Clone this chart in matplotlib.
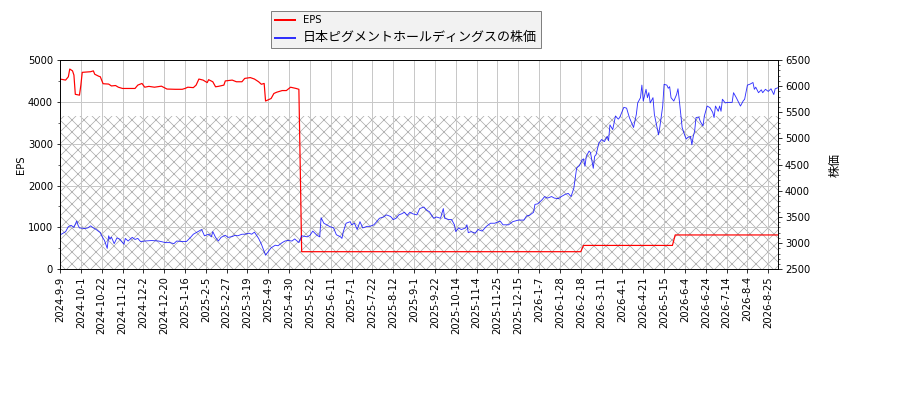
import matplotlib
matplotlib.use('Agg')
import matplotlib.pyplot as plt
from matplotlib.ticker import MultipleLocator

plt.rcParams['font.family'] = ['DejaVu Sans', 'Noto Sans CJK JP']
plt.rcParams['hatch.linewidth'] = 0.7

# trading-day index -> value
eps_day = [0, 4, 6, 7, 9, 10, 11, 14, 15, 16, 22, 24, 25, 28, 29, 31, 35, 37, 40, 42,
           45, 54, 56, 59, 61, 64, 68, 73, 77, 83, 88, 90, 92, 96, 98, 100, 103, 106,
           107, 110, 112, 114, 118, 119, 124, 127, 131, 133, 137, 140, 143, 145, 147,
           148, 152, 154, 156, 160, 163, 166, 170, 172, 173, 174, 375, 377, 441, 443, 517]
eps_val = [4545, 4520, 4600, 4784, 4740, 4640, 4180, 4160, 4400, 4705, 4720, 4740, 4660,
           4610, 4600, 4433, 4425, 4380, 4390, 4350, 4320, 4320, 4400, 4440, 4350, 4370,
           4350, 4375, 4306, 4300, 4300, 4320, 4350, 4340, 4400, 4545, 4520, 4460, 4530,
           4480, 4360, 4370, 4400, 4500, 4520, 4480, 4480, 4560, 4580, 4545, 4480, 4420,
           4440, 4020, 4080, 4200, 4230, 4270, 4270, 4350, 4320, 4300, 2400, 420, 420,
           570, 570, 820, 820]

price_day = [0, 4, 6, 8, 10, 12, 13, 14, 18, 20, 22, 24, 26, 29, 30, 32, 34, 35, 36, 37,
             39, 41, 43, 46, 47, 49, 52, 54, 56, 58, 61, 66, 71, 76, 79, 82, 84, 88, 91,
             94, 96, 100, 102, 104, 107, 109, 110, 112, 114, 116, 119, 121, 124, 126, 128,
             131, 133, 136, 138, 140, 143, 145, 148, 150, 152, 155, 157, 160, 162, 164,
             167, 169, 172, 174, 178, 180, 182, 185, 187, 188, 190, 192, 194, 197, 199,
             202, 203, 204, 206, 209, 210, 212, 214, 216, 218, 221, 223, 226, 228, 230,
             233, 235, 238, 240, 242, 244, 246, 248, 250, 252, 254, 257, 259, 262, 264,
             266, 269, 271, 274, 276, 277, 280, 282, 284, 285, 287, 289, 292, 293, 294,
             296, 299, 301, 304, 307, 310, 313, 317, 319, 323, 326, 330, 334, 336, 338,
             341, 342, 344, 347, 349, 351, 354, 356, 359, 361, 364, 366, 368, 370, 372,
             373, 374, 376, 377, 378, 379, 381, 382, 384, 385, 386, 388, 390, 392, 394,
             395, 396, 398, 400, 402, 403, 406, 408, 410, 413, 415, 416, 418, 419, 420,
             422, 423, 424, 425, 427, 428, 431, 432, 434, 435, 437, 438, 439, 440, 442,
             444, 445, 446, 447, 448, 450, 451, 452, 454, 455, 456, 457, 458, 460, 461,
             463, 464, 466, 468, 470, 471, 472, 474, 475, 476, 477, 479, 481, 484, 485,
             487, 490, 492, 493, 495, 497, 499, 500, 501, 503, 505, 506, 508, 510, 512,
             514, 515, 517]
price_val = [3155, 3219, 3314, 3340, 3300, 3423, 3340, 3290, 3280, 3290, 3330, 3290, 3260,
             3200, 3140, 3050, 2900, 3140, 3075, 3115, 2990, 3100, 3075, 2980, 3090, 3040,
             3110, 3070, 3090, 3030, 3040, 3050, 3040, 3010, 3010, 2990, 3040, 3030, 3030,
             3110, 3170, 3230, 3260, 3140, 3170, 3120, 3220, 3110, 3040, 3110, 3150, 3110,
             3125, 3150, 3140, 3170, 3170, 3190, 3170, 3210, 3090, 2980, 2770, 2840, 2910,
             2960, 2950, 3010, 3040, 3050, 3040, 3080, 3010, 3140, 3120, 3150, 3230, 3150,
             3120, 3486, 3380, 3350, 3320, 3290, 3160, 3120, 3090, 3220, 3380, 3410, 3350,
             3380, 3260, 3410, 3290, 3320, 3320, 3350, 3410, 3475, 3500, 3540, 3510, 3450,
             3475, 3540, 3560, 3590, 3530, 3590, 3560, 3540, 3660, 3690, 3630, 3600, 3475,
             3500, 3475, 3660, 3475, 3450, 3450, 3350, 3220, 3290, 3260, 3290, 3350, 3200,
             3220, 3190, 3260, 3230, 3320, 3380, 3380, 3420, 3350, 3350, 3410, 3440, 3440,
             3520, 3530, 3590, 3740, 3750, 3825, 3890, 3860, 3890, 3860, 3850, 3890, 3935,
             3950, 3890, 4050, 4430, 4460, 4480, 4590, 4610, 4470, 4660, 4760, 4730, 4430,
             4660, 4690, 4910, 4980, 4940, 5040, 4960, 5260, 5170, 5430, 5370, 5400, 5595,
             5580, 5400, 5210, 5460, 5680, 5780, 6020, 5715, 5940, 5780, 5875, 5680, 5780,
             5460, 5070, 5230, 5620, 6035, 6020, 5960, 5990, 5780, 5715, 5840, 5950, 5720,
             5460, 5210, 5050, 4990, 5020, 5040, 4880, 5040, 5140, 5400, 5410, 5330, 5240,
             5430, 5620, 5590, 5500, 5400, 5620, 5520, 5620, 5520, 5750, 5680, 5690, 5690,
             5875, 5780, 5620, 5720, 5750, 6020, 6040, 6070, 5940, 5980, 5875, 5930, 5875,
             5940, 5900, 5950, 5840, 5950, 5970]

tick_labels = ['2024-9-9', '2024-10-1', '2024-10-22', '2024-11-12', '2024-12-2',
               '2024-12-20', '2025-1-16', '2025-2-5', '2025-2-27', '2025-3-19',
               '2025-4-9', '2025-4-30', '2025-5-22', '2025-6-11', '2025-7-1',
               '2025-7-22', '2025-8-12', '2025-9-1', '2025-9-22', '2025-10-14',
               '2025-11-4', '2025-11-25', '2025-12-15', '2026-1-7', '2026-1-28',
               '2026-2-18', '2026-3-11', '2026-4-1', '2026-4-21', '2026-5-15',
               '2026-6-4', '2026-6-24', '2026-7-14', '2026-8-4', '2026-8-25']
tick_step = 15
last_day = 517
hatch_top = 3660

fig = plt.figure(figsize=(12.5, 400 / 72), dpi=72)
ax1 = fig.add_axes([0.0667, 0.3268, 0.7977, 0.5232])
ax2 = ax1.twinx()

ax1.fill_between([0, last_day], 0, hatch_top, hatch='xx', facecolor='none',
                 edgecolor='#a8a8a8', linewidth=0, zorder=0)
l1, = ax1.plot(eps_day, eps_val, color='red', linewidth=1.2, label='EPS')
l2, = ax2.plot(price_day, price_val, color='blue', alpha=0.8, linewidth=0.9,
               label='日本ピグメントホールディングスの株価')

ax1.set_xlim(0, last_day)
ax1.set_ylim(0, 5000)
ax2.set_ylim(2500, 6500)
ax1.yaxis.set_major_locator(MultipleLocator(1000))
ax1.yaxis.set_minor_locator(MultipleLocator(500))
ax2.yaxis.set_major_locator(MultipleLocator(500))
ax2.yaxis.set_minor_locator(MultipleLocator(100))

ax1.set_xticks([i * tick_step for i in range(len(tick_labels))])
ax1.set_xticklabels(tick_labels, rotation=90)
ax1.grid(True, color='#c8c8c8', linewidth=1.0)
ax1.set_axisbelow(True)

ax1.set_ylabel('EPS', labelpad=2)
ax2.set_ylabel('株価', fontsize=12, labelpad=18)

leg = fig.legend(handles=[l1, l2], loc='upper left', bbox_to_anchor=(0.295, 0.985),
                 fancybox=False, facecolor='#f2f2f2', edgecolor='#808080',
                 framealpha=1.0, labelspacing=0.6)
leg.get_texts()[1].set_fontsize(13)
for h in leg.legend_handles:
    h.set_linewidth(2.0)

fig.savefig('out.png', dpi=72)
